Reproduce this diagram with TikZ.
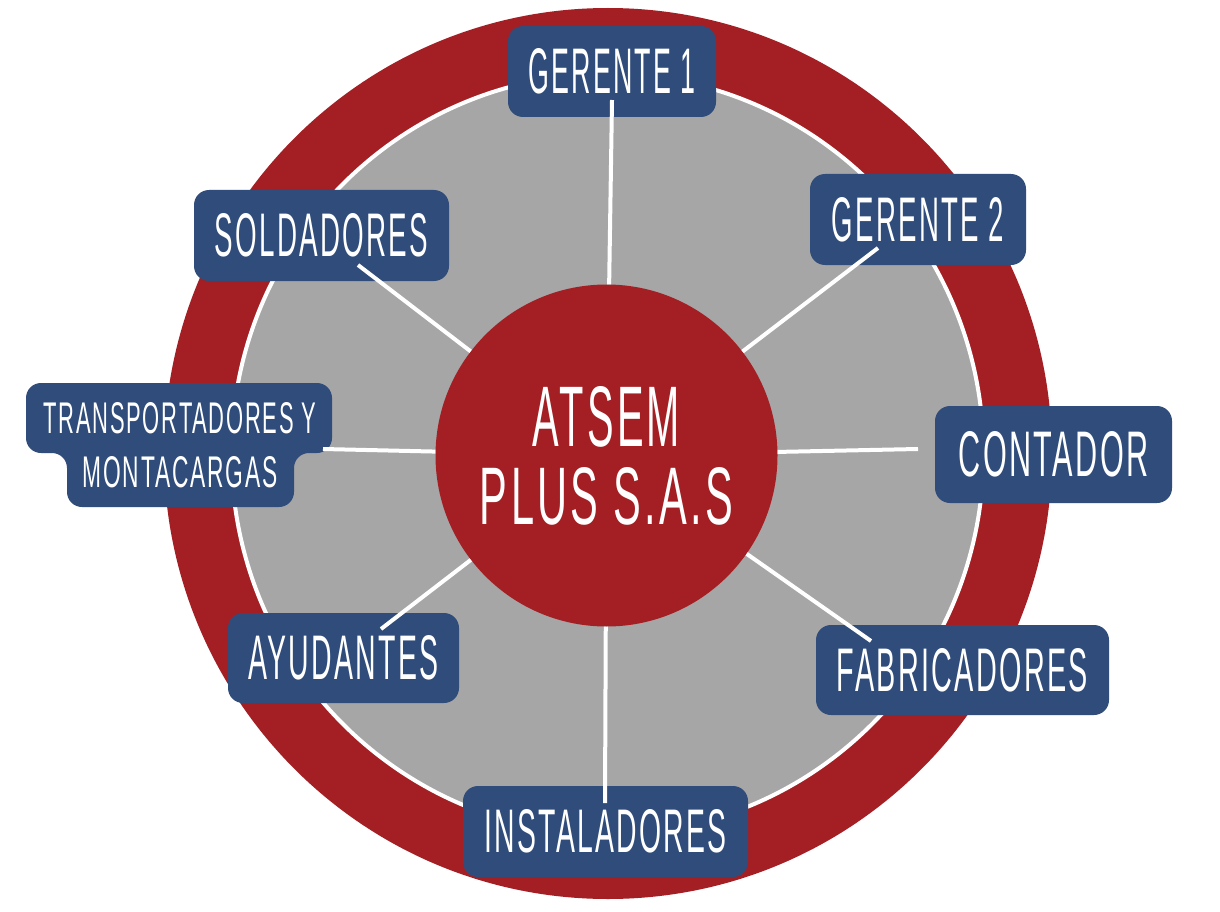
\documentclass[tikz,border=0pt]{standalone}
\usepackage{fontspec}
\setmainfont{Liberation Sans}[LetterSpace=8]
\usepackage{graphicx}
\definecolor{ringred}{HTML}{A41F24}
\definecolor{navy}{HTML}{2F4C7A}
\definecolor{disk}{HTML}{A6A6A6}
\newcommand{\lbl}[3]{\resizebox{#1}{#2}{#3}}
\begin{document}
\begin{tikzpicture}[x=1pt,y=-1pt,
  pill/.style={fill=navy, rounded corners=15pt, inner sep=0pt, text=white},
  spoke/.style={draw=white, line width=4pt},
  hub/.style={circle, fill=ringred, inner sep=0pt, minimum size=342pt, text=white, align=center}]
\useasboundingbox (0,0) rectangle (1220,912);
\fill[white] (0,0) rectangle (1220,912);
% rings
\fill[ringred] (608,453.5) ellipse [x radius=444pt, y radius=445.5pt];
\filldraw[fill=disk, draw=white, line width=4pt] (607.5,454) ellipse [x radius=376pt, y radius=380pt];
% hub
\node[hub, font=\fontsize{10}{78}\selectfont] (c) at (606.5,455.5)
  {\lbl{147pt}{60pt}{ATSEM}\\\lbl{253pt}{57pt}{PLUS S.A.S}};
% boxes
\node[pill, minimum width=208pt, minimum height=91pt] (g1) at (612,71.5) {\lbl{167pt}{45pt}{GERENTE 1}};
\node[pill, minimum width=216pt, minimum height=91pt] (g2) at (918,219.5) {\lbl{172pt}{44pt}{GERENTE 2}};
\node[pill, minimum width=237pt, minimum height=97pt] (cont) at (1053.5,454.5) {\lbl{190pt}{45pt}{CONTADOR}};
\node[pill, minimum width=293pt, minimum height=90pt] (fab) at (962.5,670) {\lbl{251pt}{43pt}{FABRICADORES}};
\node[pill, minimum width=285pt, minimum height=91pt] (inst) at (605.5,831.5) {\lbl{242pt}{43pt}{INSTALADORES}};
\node[pill, minimum width=231pt, minimum height=90pt] (ayu) at (343.5,658) {\lbl{190pt}{44pt}{AYUDANTES}};
\node[pill, minimum width=255pt, minimum height=91pt] (sold) at (321.5,235.5) {\lbl{213pt}{43pt}{SOLDADORES}};
\fill[navy, rounded corners=15pt] (26,383) -- (332,383) -- (332,453) -- (294,453) -- (294,507) -- (67,507) -- (67,453) -- (26,453) -- cycle;
\node[font=\fontsize{10}{54}\selectfont, align=center, text=white, inner sep=0pt] (tr) at (180,445)
  {\lbl{273pt}{31pt}{TRANSPORTADORES Y}\\\lbl{195pt}{31pt}{MONTACARGAS}};
% spoke ends
\coordinate (eg1) at (612,100);
\coordinate (eg2) at (878,248);
\coordinate (econt) at (918,449);
\coordinate (efab) at (871,641);
\coordinate (einst) at (605,803);
\coordinate (eayu) at (381,629);
\coordinate (etr) at (323,449);
\coordinate (esold) at (358,265);
\draw[spoke] (c) -- (eg1);
\draw[spoke] (c) -- (eg2);
\draw[spoke] (c) -- (econt);
\draw[spoke] (c) -- (efab);
\draw[spoke] (c) -- (einst);
\draw[spoke] (c) -- (eayu);
\draw[spoke] (c) -- (etr);
\draw[spoke] (c) -- (esold);
\end{tikzpicture}
\end{document}
